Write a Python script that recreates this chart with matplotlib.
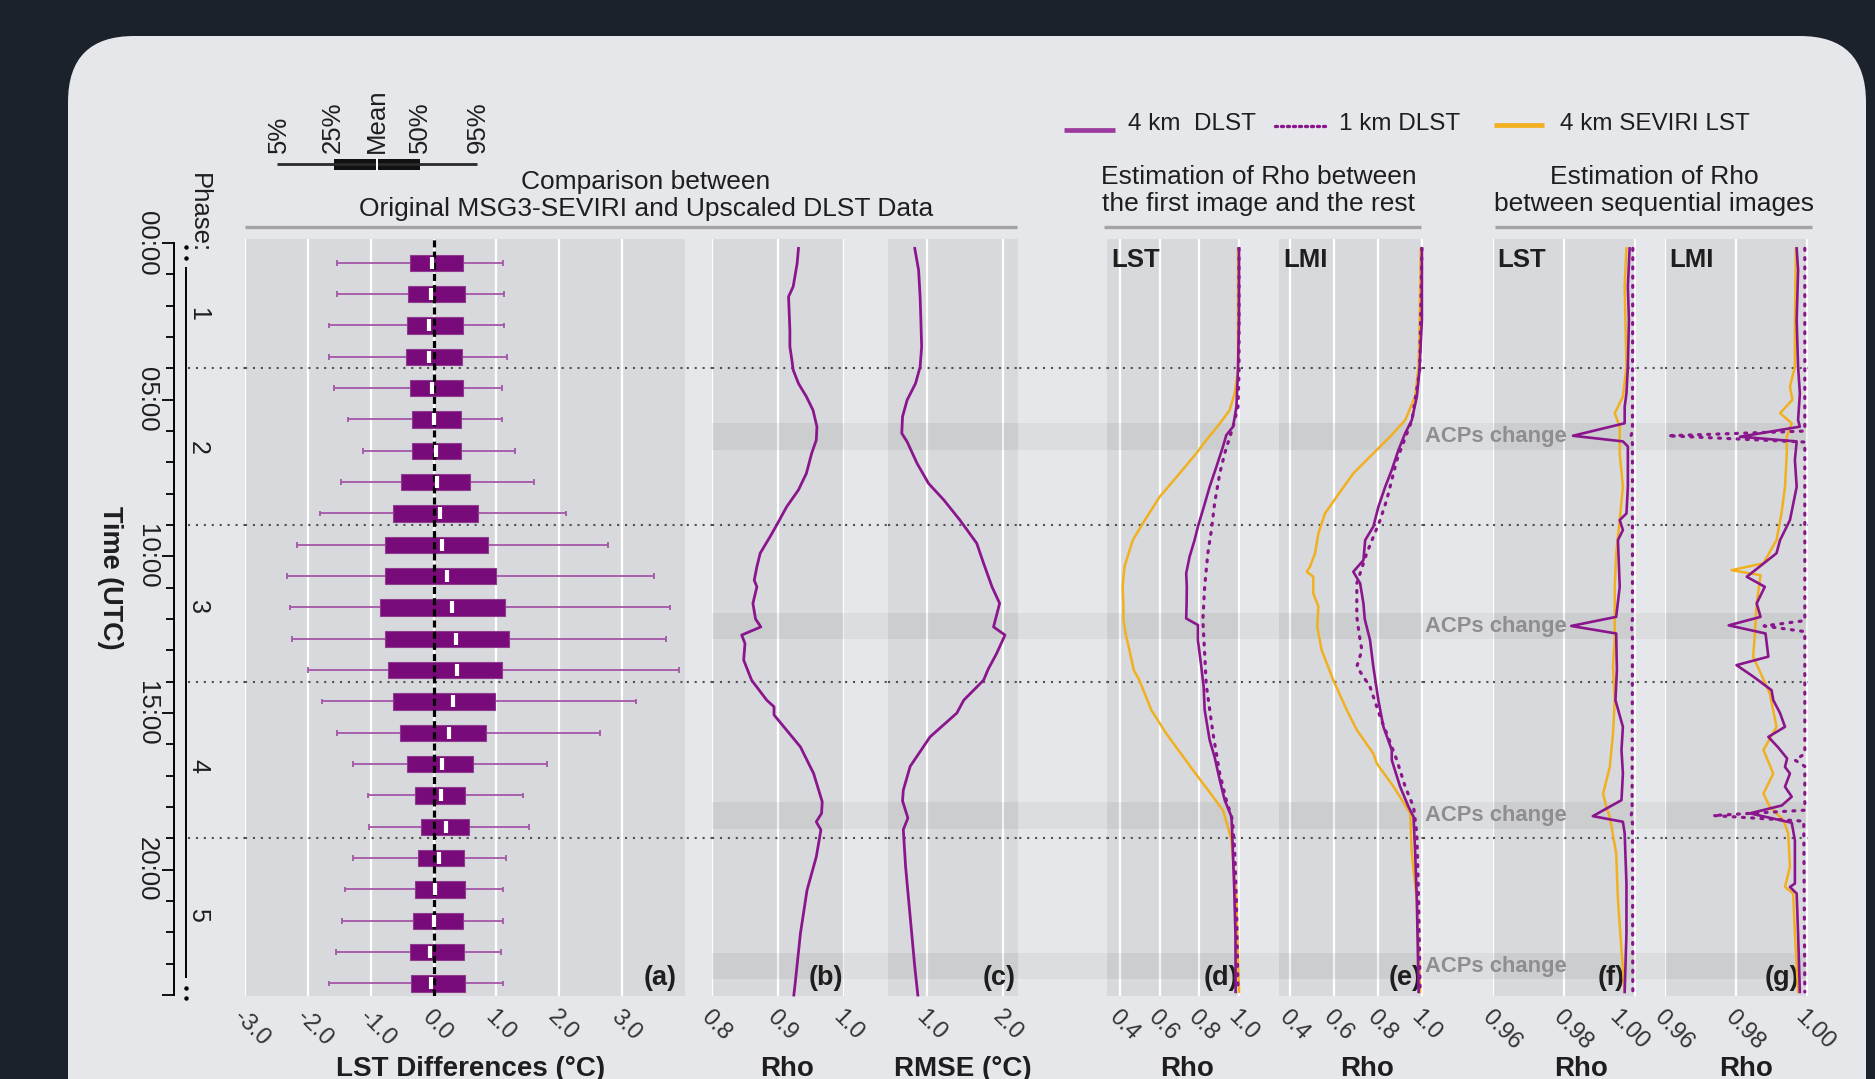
import numpy as np
import matplotlib
matplotlib.use("Agg")
import matplotlib.pyplot as plt
from matplotlib.patches import FancyBboxPatch, Rectangle
from matplotlib.transforms import ScaledTranslation

plt.rcParams['font.family'] = ['Liberation Sans', 'DejaVu Sans']

# ---------------------------------------------------------------- data
# (a) hourly distribution of LST differences (deg C)
box_hour = np.arange(24)
p05 = [-1.54, -1.54, -1.67, -1.66, -1.58, -1.36, -1.13, -1.47, -1.81, -2.18, -2.33, -2.29,
       -2.26, -1.99, -1.78, -1.53, -1.28, -1.05, -1.03, -1.28, -1.41, -1.46, -1.55, -1.66]
q25 = [-0.37, -0.40, -0.42, -0.44, -0.38, -0.34, -0.35, -0.52, -0.65, -0.77, -0.78, -0.85,
       -0.78, -0.73, -0.64, -0.53, -0.43, -0.29, -0.20, -0.25, -0.30, -0.32, -0.37, -0.36]
mean_diff = [-0.02, -0.04, -0.07, -0.07, -0.02, 0.00, 0.04, 0.05, 0.10, 0.14, 0.22, 0.29,
             0.35, 0.37, 0.31, 0.24, 0.14, 0.12, 0.19, 0.08, 0.03, 0.00, -0.05, -0.04]
q50 = [0.47, 0.50, 0.47, 0.45, 0.47, 0.43, 0.43, 0.58, 0.71, 0.87, 1.00, 1.14,
       1.20, 1.09, 0.97, 0.83, 0.63, 0.50, 0.56, 0.49, 0.50, 0.47, 0.49, 0.50]
p95 = [1.11, 1.12, 1.12, 1.17, 1.09, 1.09, 1.29, 1.59, 2.11, 2.77, 3.51, 3.76,
       3.70, 3.90, 3.22, 2.65, 1.80, 1.43, 1.52, 1.16, 1.11, 1.11, 1.07, 1.11]

# (b) Rho and (c) RMSE between original and upscaled data
b_hours = [0.17, 0.65, 1.39, 1.71, 2.25, 2.78, 3.3, 3.73, 4.05, 4.48, 4.9, 5.33, 5.86, 6.29,
           6.71, 7.35, 7.88, 8.42, 9.0, 9.37, 9.9, 10.33, 10.76, 10.97, 11.5, 12.0, 12.25,
           12.51, 12.78, 13.31, 13.95, 14.59, 14.8, 15.06, 16.08, 16.93, 17.83, 18.2, 18.47,
           18.73, 19.59, 20.65, 22.03, 23.63, 24.0]
b_rho = [0.931, 0.929, 0.923, 0.916, 0.917, 0.918, 0.918, 0.921, 0.923, 0.931, 0.943, 0.953,
         0.959, 0.958, 0.951, 0.943, 0.931, 0.913, 0.898, 0.888, 0.873, 0.868, 0.864, 0.868,
         0.862, 0.866, 0.874, 0.845, 0.850, 0.848, 0.860, 0.883, 0.894, 0.894, 0.934, 0.954,
         0.967, 0.966, 0.958, 0.965, 0.958, 0.944, 0.934, 0.926, 0.924]
c_hours = [0.17, 0.86, 1.71, 2.46, 3.31, 3.95, 4.48, 5.01, 5.54, 6.07, 6.34, 7.03, 7.67, 8.2,
           8.84, 9.58, 10.22, 10.97, 11.5, 12.25, 12.51, 13.1, 13.6, 13.95, 14.59, 15.0,
           15.76, 16.7, 17.46, 17.8, 18.35, 18.72, 19.9, 21.5, 23.1, 24.0]
c_rmse = [0.84, 0.89, 0.91, 0.92, 0.93, 0.91, 0.85, 0.74, 0.68, 0.67, 0.74, 0.87, 1.02, 1.22,
          1.43, 1.65, 1.74, 1.85, 1.95, 1.87, 2.02, 1.91, 1.80, 1.74, 1.48, 1.39, 1.04, 0.78,
          0.69, 0.68, 0.75, 0.69, 0.72, 0.78, 0.84, 0.88]

# (d) Rho between first image and the rest - LST
d4_hours = [0.17, 2.46, 4.05, 5.22, 5.86, 6.13, 6.5, 7.14, 7.78, 8.52, 9.05, 9.48, 10.01,
            10.54, 10.97, 11.5, 11.98, 12.19, 12.67, 13.52, 14.16, 14.9, 15.86, 16.4, 17.14,
            17.78, 18.31, 19.06, 20.44, 22.03, 23.9]
d4_rho = [1.0, 1.0, 0.995, 0.987, 0.970, 0.936, 0.919, 0.886, 0.852, 0.818, 0.793, 0.776,
          0.751, 0.734, 0.737, 0.736, 0.734, 0.793, 0.793, 0.810, 0.822, 0.827, 0.852, 0.877,
          0.903, 0.928, 0.962, 0.967, 0.975, 0.982, 0.983]
d1_hours = [0.17, 4.05, 5.22, 5.86, 6.71, 7.35, 8.31, 9.16, 9.9, 10.97, 12.03, 13.1, 14.1,
            15.65, 16.93, 17.78, 18.41, 19.38, 20.97, 23.9]
d1_rho = [1.0, 1.0, 0.995, 0.970, 0.928, 0.903, 0.877, 0.861, 0.843, 0.827, 0.818, 0.827,
          0.835, 0.869, 0.903, 0.936, 0.967, 0.978, 0.987, 0.995]
ds_hours = [0.17, 4.05, 4.8, 5.33, 5.76, 6.29, 6.71, 7.35, 8.1, 8.95, 9.48, 10.33, 10.97,
            11.6, 12.03, 12.5, 12.99, 13.63, 13.95, 14.9, 15.65, 16.82, 17.67, 18.1, 18.63,
            19.06, 20.97, 23.9]
ds_rho = [0.995, 0.995, 0.978, 0.953, 0.903, 0.835, 0.785, 0.701, 0.600, 0.515, 0.465, 0.423,
          0.414, 0.418, 0.418, 0.430, 0.448, 0.470, 0.498, 0.558, 0.633, 0.768, 0.869, 0.919,
          0.944, 0.962, 0.987, 1.0]

# (e) Rho between first image and the rest - LMI
e4_hours = [0.17, 2.46, 4.05, 4.9, 5.65, 6.07, 6.61, 7.24, 7.78, 8.42, 9.05, 9.48, 10.12,
            10.49, 10.86, 11.5, 12.0, 12.67, 13.52, 14.59, 15.44, 16.18, 16.5, 17.35, 17.99,
            18.31, 19.38, 20.97, 23.9]
e4_rho = [1.0, 1.0, 0.989, 0.977, 0.954, 0.924, 0.893, 0.863, 0.833, 0.802, 0.779, 0.742,
          0.734, 0.688, 0.719, 0.734, 0.740, 0.764, 0.779, 0.802, 0.825, 0.863, 0.863, 0.901,
          0.939, 0.962, 0.969, 0.977, 0.985]
e1_hours = [0.17, 4.05, 5.65, 6.2, 6.93, 8.2, 8.84, 9.9, 10.86, 11.93, 12.5, 12.99, 13.52,
            14.16, 15.12, 15.65, 16.5, 17.35, 17.99, 18.84, 20.97, 23.9]
e1_rho = [1.0, 0.990, 0.955, 0.925, 0.886, 0.840, 0.810, 0.749, 0.704, 0.704, 0.715, 0.727,
          0.704, 0.764, 0.810, 0.840, 0.886, 0.924, 0.962, 0.977, 0.985, 0.992]
es_hours = [0.17, 2.46, 3.95, 4.9, 5.65, 6.18, 6.71, 7.35, 8.1, 8.63, 9.27, 9.9, 10.33,
            10.49, 10.65, 11.18, 11.6, 12.25, 12.99, 13.95, 14.9, 15.54, 16.29, 16.61, 17.35,
            18.2, 19.48, 20.97, 23.9]
es_rho = [0.995, 0.990, 0.985, 0.969, 0.924, 0.855, 0.779, 0.688, 0.612, 0.559, 0.529, 0.514,
          0.491, 0.476, 0.506, 0.506, 0.529, 0.524, 0.544, 0.597, 0.658, 0.704, 0.779, 0.795,
          0.871, 0.947, 0.954, 0.977, 0.992]

# (f) Rho between sequential images - LST
f4_hours = [0.17, 1.39, 2.46, 3.95, 4.8, 5.22, 5.75, 6.15, 6.33, 6.49, 7.78, 8.63, 8.84,
            9.16, 9.48, 10.97, 11.93, 12.22, 12.46, 13.63, 14.59, 15.44, 16.18, 16.93, 17.78,
            18.29, 18.47, 18.84, 20.44, 22.03, 23.9]
f4_rho = [0.9986, 0.9981, 0.9984, 0.9981, 0.9977, 0.9972, 0.9972, 0.9826, 0.9967, 0.9981,
          0.9981, 0.9977, 0.9958, 0.9967, 0.9953, 0.9958, 0.9948, 0.9821, 0.9948, 0.9950,
          0.9946, 0.9967, 0.9963, 0.9967, 0.9963, 0.9882, 0.9967, 0.9972, 0.9977, 0.9977,
          0.9972]
f1_hours = [0.17, 6.0, 6.15, 6.4, 12.0, 12.2, 12.5, 18.1, 18.3, 18.5, 23.9]
f1_rho = [0.9995, 0.9994, 0.9990, 0.9994, 0.9994, 0.9991, 0.9994, 0.9993, 0.9990, 0.9994,
          0.9995]
fs_hours = [0.17, 1.39, 3.95, 4.9, 5.43, 5.86, 6.71, 7.78, 8.84, 9.9, 10.97, 12.57, 13.52,
            14.59, 15.65, 16.72, 17.57, 17.99, 18.31, 19.48, 20.97, 22.56, 23.9]
fs_rho = [0.9977, 0.9972, 0.9977, 0.9967, 0.9944, 0.9958, 0.9958, 0.9967, 0.9958, 0.9948,
          0.9944, 0.9944, 0.9939, 0.9944, 0.9939, 0.9930, 0.9911, 0.9920, 0.9930, 0.9948,
          0.9953, 0.9963, 0.9972]

# (g) Rho between sequential images - LMI
g4_hours = [0.17, 0.86, 2.46, 3.95, 4.8, 5.65, 5.86, 6.18, 6.33, 6.92, 7.78, 8.84, 9.48,
            9.9, 10.65, 10.97, 11.5, 11.93, 12.2, 12.46, 13.2, 13.47, 13.84, 14.27, 14.59,
            15.0, 15.44, 15.76, 16.1, 16.45, 16.72, 16.93, 17.35, 17.67, 17.95, 18.2, 18.5,
            19.06, 20.44, 20.55, 20.76, 22.03, 23.9]
g4_rho = [0.9972, 0.9976, 0.9972, 0.9976, 0.9981, 0.9976, 0.9981, 0.9812, 0.9972, 0.9967,
          0.9972, 0.9953, 0.9925, 0.9915, 0.9831, 0.9882, 0.9859, 0.9870, 0.9780, 0.9884,
          0.9892, 0.9802, 0.9850, 0.9901, 0.9906, 0.9925, 0.9939, 0.9892, 0.9920, 0.9945,
          0.9939, 0.9953, 0.9939, 0.9958, 0.9930, 0.9840, 0.9958, 0.9967, 0.9967, 0.9953,
          0.9972, 0.9976, 0.9981]
g1_hours = [0.17, 6.0, 6.15, 6.35, 12.05, 12.22, 12.4, 16.3, 16.5, 16.7, 18.1, 18.27, 18.45,
            23.9]
g1_rho = [0.9995, 0.9995, 0.9608, 0.9995, 0.9995, 0.9880, 0.9995, 0.9995, 0.9967, 0.9995,
          0.9995, 0.9736, 0.9992, 0.9995]
gs_hours = [0.17, 2.46, 3.95, 4.58, 5.0, 5.43, 5.75, 6.18, 6.71, 7.78, 8.63, 9.48, 10.22,
            10.44, 10.6, 11.5, 12.46, 13.2, 14.37, 15.44, 16.18, 16.93, 17.57, 17.99, 18.41,
            18.84, 19.9, 20.55, 20.76, 22.03, 23.9]
gs_rho = [0.9970, 0.9967, 0.9967, 0.9953, 0.9960, 0.9925, 0.9958, 0.9944, 0.9944, 0.9939,
          0.9929, 0.9915, 0.9878, 0.9788, 0.9870, 0.9859, 0.9854, 0.9849, 0.9896, 0.9915,
          0.9878, 0.9906, 0.9878, 0.9896, 0.9934, 0.9948, 0.9953, 0.9939, 0.9962, 0.9967,
          0.9976]

# time structure
phase_bounds = [4, 9, 14, 19]
phase_names = ['1', '2', '3', '4', '5']
phase_label_at = [2.25, 6.55, 11.6, 16.7, 21.45]
acp_start = [5.75, 11.8, 17.85, 22.65]
acp_end = [6.6, 12.65, 18.7, 23.5]
time_major = [0, 5, 10, 15, 20]
time_major_labels = ['00:00', '05:00', '10:00', '15:00', '20:00']

# ---------------------------------------------------------------- style
W, H = 1875, 1079
BG = '#1b222c'
CARD = '#e6e7ea'
PANEL = '#d8d9dc'
PURPLE = '#8a168d'
BOX_PURPLE = '#790a7a'
WHISKER = '#a456a7'
ORANGE = '#f0b020'
DOTS = '#505050'
TXT = '#1e1e1e'
YLIM = (24.03, -0.13)
TOP, BOTTOM = 239, 996
ONE_KM_DOTS = (0, (0.6, 2.3))

fig = plt.figure(figsize=(W / 100, H / 100), dpi=100)
fig.patch.set_facecolor(BG)


def px_axes(x0, x1, y0=TOP, y1=BOTTOM, z=2):
    return fig.add_axes([x0 / W, 1 - y1 / H, (x1 - x0) / W, (y1 - y0) / H], zorder=z)


# card behind everything
base = fig.add_axes([0, 0, 1, 1], zorder=0)
base.set_xlim(0, W)
base.set_ylim(H, 0)
base.axis('off')
base.add_patch(FancyBboxPatch((68, 36), 1798, 1200, boxstyle='round,pad=0,rounding_size=66',
                              fc=CARD, ec='none'))

# shared horizontal guides running across the whole figure
strip = px_axes(188, 1810, z=1)
strip.set_xlim(0, 1)
strip.set_ylim(*YLIM)
strip.axis('off')
band_x0 = (712 - 188) / (1810 - 188)
band_x1 = (1807 - 188) / (1810 - 188)
for s, e in zip(acp_start, acp_end):
    strip.axhspan(s, e, xmin=band_x0, xmax=band_x1, color='k', alpha=0.045, lw=0)
for b in phase_bounds:
    strip.axhline(b, color=DOTS, lw=1.5, ls=(0, (1, 2.8)))


def setup_panel(ax, xlim, ticks, labels, bands=True):
    ax.set_facecolor(PANEL)
    ax.set_xlim(*xlim)
    ax.set_ylim(*YLIM)
    ax.set_xticks(ticks)
    ax.set_xticklabels(labels, rotation=-45, ha='left', va='top', rotation_mode='anchor',
                       fontsize=17, color='#333333')
    ax.tick_params(axis='x', length=0, pad=7)
    ax.set_yticks([])
    for sp in ax.spines.values():
        sp.set_visible(False)
    ax.grid(axis='x', color='white', lw=1.6)
    ax.set_axisbelow(True)
    if bands:
        for s, e in zip(acp_start, acp_end):
            ax.axhspan(s, e, color='k', alpha=0.055, lw=0, zorder=1)
    for b in phase_bounds:
        ax.axhline(b, color=DOTS, lw=1.5, ls=(0, (1, 2.8)), zorder=1.5)


def nudge_last_label(ax, dx_px):
    lab = ax.get_xticklabels()[-1]
    lab.set_transform(lab.get_transform() + ScaledTranslation(dx_px / 100, 0,
                                                              fig.dpi_scale_trans))


def panel_letter(ax, letter, xr):
    ax.text(xr, 0.024, letter, transform=ax.transAxes, ha='right', va='center',
            fontsize=19.5, fontweight='bold', color=TXT, zorder=2.5)


def corner_tag(ax, tag):
    ax.text(0.03, 0.988, tag, transform=ax.transAxes, ha='left', va='top',
            fontsize=18.5, fontweight='bold', color=TXT, zorder=2.5)


def rho_lines(ax, sev, one, four):
    ax.plot(sev[1], sev[0], color=ORANGE, lw=1.8, zorder=3, clip_on=False)
    ax.plot(one[1], one[0], color=PURPLE, lw=2.3, ls=ONE_KM_DOTS,
            dash_capstyle='round', zorder=3.1, clip_on=False)
    ax.plot(four[1], four[0], color=PURPLE, lw=1.9, zorder=3.2, clip_on=False)


# ---- (a) box plots
ax_a = px_axes(245, 685)
setup_panel(ax_a, (-3, 4), [-3, -2, -1, 0, 1, 2, 3],
            ['-3.0', '-2.0', '-1.0', '0.0', '1.0', '2.0', '3.0'], bands=False)
box_y = box_hour + 0.63
ax_a.hlines(box_y, p05, q25, color=WHISKER, lw=1.3, zorder=2.8)
ax_a.hlines(box_y, q50, p95, color=WHISKER, lw=1.3, zorder=2.8)
ax_a.vlines(p05, box_y - 0.09, box_y + 0.09, color=WHISKER, lw=1.3, zorder=2.8)
ax_a.vlines(p95, box_y - 0.09, box_y + 0.09, color=WHISKER, lw=1.3, zorder=2.8)
ax_a.barh(box_y, np.subtract(q50, q25), left=q25, height=0.52, color=BOX_PURPLE,
          edgecolor='#8d3a8f', lw=0.8, zorder=3)
ax_a.axvline(0, color='k', lw=2.3, ls=(0, (2.2, 1.3)), zorder=4)
ax_a.plot(mean_diff, box_y, ls='none', marker='|', ms=9, mew=3.0, color='white', zorder=5)
panel_letter(ax_a, '(a)', 0.98)

# ---- (b) Rho
ax_b = px_axes(712, 844)
setup_panel(ax_b, (0.8, 1.0), [0.8, 0.9, 1.0], ['0.8', '0.9', '1.0'])
ax_b.plot(b_rho, b_hours, color=PURPLE, lw=2.0, zorder=3, clip_on=False)
panel_letter(ax_b, '(b)', 0.99)

# ---- (c) RMSE
ax_c = px_axes(888, 1018)
setup_panel(ax_c, (0.49, 2.19), [1.0, 2.0], ['1.0', '2.0'])
ax_c.plot(c_rmse, c_hours, color=PURPLE, lw=2.0, zorder=3, clip_on=False)
panel_letter(ax_c, '(c)', 0.98)

# ---- (d), (e) Rho against the first image
ax_d = px_axes(1107, 1240)
setup_panel(ax_d, (0.335, 1.005), [0.4, 0.6, 0.8, 1.0], ['0.4', '0.6', '0.8', '1.0'])
rho_lines(ax_d, (ds_hours, ds_rho), (d1_hours, d1_rho), (d4_hours, d4_rho))
corner_tag(ax_d, 'LST')
panel_letter(ax_d, '(d)', 0.985)

ax_e = px_axes(1279, 1423)
setup_panel(ax_e, (0.35, 1.005), [0.4, 0.6, 0.8, 1.0], ['0.4', '0.6', '0.8', '1.0'])
rho_lines(ax_e, (es_hours, es_rho), (e1_hours, e1_rho), (e4_hours, e4_rho))
corner_tag(ax_e, 'LMI')
panel_letter(ax_e, '(e)', 0.99)

# ---- (f), (g) Rho between sequential images
ax_f = px_axes(1493, 1636)
setup_panel(ax_f, (0.96, 1.0004), [0.96, 0.98, 1.0], ['0.96', '0.98', '1.00'])
nudge_last_label(ax_f, -14)
rho_lines(ax_f, (fs_hours, fs_rho), (f1_hours, f1_rho), (f4_hours, f4_rho))
corner_tag(ax_f, 'LST')
panel_letter(ax_f, '(f)', 0.92)

ax_g = px_axes(1665, 1808)
setup_panel(ax_g, (0.96, 1.0004), [0.96, 0.98, 1.0], ['0.96', '0.98', '1.00'])
rho_lines(ax_g, (gs_hours, gs_rho), (g1_hours, g1_rho), (g4_hours, g4_rho))
corner_tag(ax_g, 'LMI')
panel_letter(ax_g, '(g)', 0.94)

# ---- time axis with phase bracket
tax = px_axes(174, 230, z=2)
tax.set_facecolor('none')
tax.set_ylim(*YLIM)
tax.set_xlim(0, 56)
for name in ('top', 'right', 'bottom'):
    tax.spines[name].set_visible(False)
tax.spines['left'].set_linewidth(1.4)
tax.spines['left'].set_bounds(0, 24)
tax.set_xticks([])
tax.set_yticks(time_major + [24])
tax.set_yticklabels(time_major_labels + [''], rotation=-90, va='center', ha='right',
                    fontsize=18.5, color=TXT)
tax.set_yticks(np.arange(25), minor=True)
tax.tick_params(axis='y', which='major', length=9, width=1.3, pad=2)
tax.tick_params(axis='y', which='minor', length=6, width=1.3)
tax.vlines(12, 0.77, 23.45, color='k', lw=1.4)
tax.plot([12, 12], [0.13, 0.48], ls='none', marker='o', ms=2.2, color='k', clip_on=False)
tax.plot([12, 12], [23.77, 24.1], ls='none', marker='o', ms=2.2, color='k', clip_on=False)
for name, mid in zip(phase_names, phase_label_at):
    tax.text(24, mid, name, rotation=-90, ha='center', va='center', fontsize=18, color=TXT)

# ---------------------------------------------------------------- annotations on top
top = fig.add_axes([0, 0, 1, 1], zorder=10)
top.set_xlim(0, W)
top.set_ylim(H, 0)
top.axis('off')
top.patch.set_alpha(0)

top.text(110, 578, 'Time (UTC)', rotation=-90, ha='center', va='center', fontsize=19.5,
         fontweight='bold', color=TXT)
top.text(199, 213, 'Phase:', rotation=-90, ha='center', va='center', fontsize=18.5, color=TXT)

# section titles
top.text(646, 182, 'Comparison between', ha='center', va='center', fontsize=19, color=TXT)
top.text(646, 209, 'Original MSG3-SEVIRI and Upscaled DLST Data', ha='center', va='center',
         fontsize=19, color=TXT)
top.text(1259, 177, 'Estimation of Rho between', ha='center', va='center', fontsize=19, color=TXT)
top.text(1259, 204, 'the first image and the rest', ha='center', va='center', fontsize=19,
         color=TXT)
top.text(1654, 177, 'Estimation of Rho', ha='center', va='center', fontsize=19, color=TXT)
top.text(1654, 204, 'between sequential images', ha='center', va='center', fontsize=19,
         color=TXT)
for x0, x1 in [(245, 1017), (1104, 1421), (1495, 1812)]:
    top.plot([x0, x1], [227, 227], color='#a3a3a5', lw=2.4, solid_capstyle='butt')

# series legend
top.plot([1064, 1115], [130, 130], color='#9b3a9e', lw=3.4, solid_capstyle='butt')
top.text(1128, 124, '4 km  DLST', ha='left', va='center', fontsize=17.5, color=TXT)
top.plot([1275, 1326], [126, 126], color=PURPLE, lw=2.4, ls=(0, (0.6, 1.2)),
         dash_capstyle='round')
top.text(1339, 124, '1 km DLST', ha='left', va='center', fontsize=17.5, color=TXT)
top.plot([1494, 1544], [125, 125], color=ORANGE, lw=3.4, solid_capstyle='butt')
top.text(1560, 124, '4 km SEVIRI LST', ha='left', va='center', fontsize=17.5, color=TXT)

# box plot key
top.plot([277, 477], [164, 164], color='#2a2a2a', lw=2.0, solid_capstyle='butt')
top.add_patch(Rectangle((334, 159), 86, 11, fc='#111111', ec='none'))
top.plot([377, 377], [159, 170], color='white', lw=1.4)
for lab, x in zip(['5%', '25%', 'Mean', '50%', '95%'], [279, 333, 377, 420, 478]):
    top.text(x, 153, lab, rotation=90, ha='center', va='bottom', fontsize=18.5, color=TXT)

# change markers
for s, e in zip(acp_start, acp_end):
    yc = TOP + ((s + e) / 2 - YLIM[1]) / (YLIM[0] - YLIM[1]) * (BOTTOM - TOP)
    top.text(1425, yc, 'ACPs change', ha='left', va='center', fontsize=15.8,
             fontweight='bold', color='#8e8e90')

# axis titles under the tick labels
for x, lab in [(471, 'LST Differences (°C)'), (787, 'Rho'), (963, 'RMSE (°C)'),
               (1187, 'Rho'), (1367, 'Rho'), (1581, 'Rho'), (1746, 'Rho')]:
    top.text(x, 1056, lab, ha='center', va='top', fontsize=20, fontweight='bold', color=TXT)

fig.savefig('out.png', dpi=100, facecolor=BG)
